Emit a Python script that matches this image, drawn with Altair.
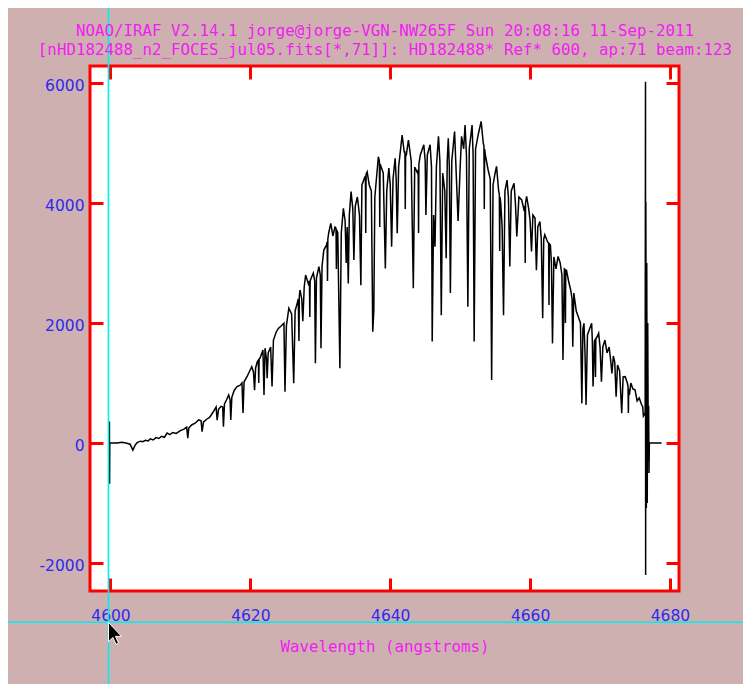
import altair as alt
import pandas as pd

# ---------------- data ----------------
wavelength = [
    4599.75, 4599.84, 4599.85, 4599.87, 4599.90, 4601.00, 4601.60, 4602.20, 4602.80, 4603.20,
    4603.50, 4603.80, 4604.30, 4604.60, 4605.00, 4605.40, 4605.70, 4606.10, 4606.50, 4606.90,
    4607.30, 4607.70, 4608.10, 4608.50, 4608.90, 4609.40, 4610.00, 4610.50, 4610.90, 4611.05,
    4611.20, 4611.60, 4612.10, 4612.60, 4612.95, 4613.10, 4613.30, 4613.80, 4614.20, 4614.70,
    4615.10, 4615.25, 4615.45, 4615.80, 4616.05, 4616.15, 4616.30, 4616.60, 4616.90, 4617.10,
    4617.20, 4617.35, 4617.70, 4618.10, 4618.50, 4618.80, 4618.95, 4619.10, 4619.50, 4619.90,
    4620.20, 4620.45, 4620.60, 4620.75, 4621.00, 4621.15, 4621.20, 4621.25, 4621.40, 4621.80,
    4621.95, 4622.10, 4622.30, 4622.40, 4622.55, 4622.90, 4623.10, 4623.30, 4623.70, 4624.00,
    4624.40, 4624.80, 4624.95, 4625.15, 4625.50, 4625.90, 4626.20, 4626.40, 4626.70, 4626.85,
    4626.95, 4627.00, 4627.10, 4627.35, 4627.50, 4627.70, 4627.90, 4628.30, 4628.45, 4628.50,
    4628.55, 4628.70, 4629.00, 4629.20, 4629.30, 4629.45, 4629.80, 4630.00, 4630.10, 4630.25,
    4630.50, 4630.90, 4630.98, 4631.03, 4631.08, 4631.20, 4631.50, 4631.80, 4632.10, 4632.25,
    4632.30, 4632.35, 4632.50, 4632.80, 4633.00, 4633.30, 4633.55, 4633.70, 4633.85, 4634.00,
    4634.15, 4634.40, 4634.65, 4634.80, 4635.00, 4635.30, 4635.60, 4635.80, 4635.95, 4636.30,
    4636.45, 4636.50, 4636.55, 4636.70, 4637.00, 4637.30, 4637.50, 4637.65, 4637.80, 4638.30,
    4638.45, 4638.50, 4638.55, 4638.70, 4639.00, 4639.30, 4639.50, 4639.80, 4640.00, 4640.20,
    4640.40, 4640.70, 4640.85, 4641.00, 4641.20, 4641.70, 4642.00, 4642.10, 4642.15, 4642.20,
    4642.30, 4642.60, 4643.00, 4643.30, 4643.50, 4643.90, 4644.00, 4644.05, 4644.10, 4644.30,
    4644.80, 4645.00, 4645.10, 4645.30, 4645.70, 4645.90, 4646.00, 4646.20, 4646.40, 4646.60,
    4646.90, 4647.10, 4647.30, 4647.50, 4647.80, 4648.00, 4648.15, 4648.30, 4648.45, 4648.60,
    4648.80, 4649.20, 4649.50, 4649.70, 4650.00, 4650.20, 4650.50, 4650.70, 4650.90, 4651.10,
    4651.30, 4651.70, 4651.85, 4652.00, 4652.20, 4652.60, 4653.00, 4653.30, 4653.40, 4653.45,
    4653.50, 4653.60, 4654.00, 4654.30, 4654.50, 4654.70, 4655.00, 4655.20, 4655.50, 4655.60,
    4655.65, 4655.70, 4655.80, 4656.00, 4656.20, 4656.40, 4656.70, 4656.90, 4657.10, 4657.30,
    4657.70, 4657.90, 4658.10, 4658.40, 4658.80, 4659.10, 4659.25, 4659.30, 4659.35, 4659.50,
    4659.80, 4660.00, 4660.20, 4660.40, 4660.70, 4660.90, 4661.10, 4661.40, 4661.60, 4661.80,
    4661.95, 4662.10, 4662.50, 4662.65, 4662.70, 4662.75, 4662.90, 4663.05, 4663.20, 4663.40,
    4663.70, 4664.00, 4664.30, 4664.55, 4664.70, 4664.90, 4665.00, 4665.05, 4665.10, 4665.20,
    4665.50, 4665.80, 4666.00, 4666.10, 4666.25, 4666.60, 4666.90, 4667.20, 4667.40, 4667.55,
    4667.70, 4667.85, 4668.00, 4668.20, 4668.50, 4668.80, 4668.90, 4669.00, 4669.20, 4669.30,
    4669.35, 4669.40, 4669.50, 4669.80, 4670.00, 4670.20, 4670.40, 4670.70, 4671.00, 4671.30,
    4671.50, 4671.70, 4671.90, 4672.10, 4672.30, 4672.50, 4672.80, 4673.10, 4673.30, 4673.60,
    4673.90, 4674.00, 4674.05, 4674.10, 4674.20, 4674.40, 4674.70, 4675.00, 4675.30, 4675.60,
    4675.90, 4676.10, 4676.20, 4676.45, 4676.50, 4676.52, 4676.55, 4676.62, 4676.68, 4676.75,
    4676.82, 4676.90, 4676.95, 4677.00, 4677.05, 4678.80,
]
flux = [
    0, 0, 360, -680, 0, 0, 10, 0, -20, -120,
    -40, 5, 30, 20, 45, 35, 70, 50, 90, 75,
    110, 95, 165, 140, 175, 160, 205, 230, 265, 80,
    250, 300, 330, 385, 370, 190, 350, 400, 430, 520,
    600, 380, 560, 610, 600, 270, 650, 720, 800, 720,
    385, 760, 880, 940, 960, 1000, 500, 1020, 1100, 1200,
    1270, 1180, 880, 1250, 1355, 1380, 1000, 1400, 1420, 1550,
    800, 1580, 1400, 1080, 1500, 1600, 940, 1715, 1850, 1910,
    1950, 1995, 855, 1950, 2245, 2150, 995, 2200, 2330, 2400,
    1700, 2450, 2550, 2400, 2030, 2600, 2800, 2650, 2700, 2100,
    2700, 2750, 2830, 2700, 1330, 2750, 2940, 2800, 1580, 2950,
    3215, 3300, 3350, 2700, 3400, 3500, 3660, 3450, 3600, 3580,
    2900, 3550, 3500, 1245, 3500, 3910, 3700, 3000, 3600, 2660,
    3800, 4190, 3900, 3050, 3950, 4100, 3800, 2630, 4300, 4410,
    4450, 3500, 4480, 4520, 4300, 4200, 1855, 2200, 4100, 4770,
    4700, 3600, 4650, 4600, 4500, 2910, 4200, 4580, 4300, 3270,
    4400, 4745, 4400, 3495, 4600, 5130, 4850, 4850, 3900, 4800,
    4800, 5050, 4700, 2580, 4600, 4500, 4550, 3500, 4650, 4800,
    4970, 4700, 3800, 4800, 4970, 4600, 1690, 3800, 3270, 4600,
    5110, 4700, 2130, 4500, 4200, 3080, 4700, 5080, 4600, 2500,
    4700, 5190, 4300, 3700, 4600, 5110, 4900, 5300, 4800, 2270,
    4900, 5300, 4800, 1690, 4900, 5150, 5360, 5000, 4950, 3900,
    4900, 4800, 4550, 4400, 1050, 4300, 4500, 4610, 4200, 4150,
    3200, 4100, 4000, 3600, 2130, 4200, 4380, 4100, 2940, 4200,
    4330, 4000, 3440, 4100, 4050, 3900, 3950, 3000, 4000, 4110,
    3900, 3700, 3190, 3800, 3750, 2880, 3600, 3690, 3400, 2080,
    3400, 3470, 3350, 3330, 2300, 3320, 3300, 3000, 1660, 3100,
    2900, 3110, 3000, 2800, 1385, 2900, 2890, 2000, 2880, 2880,
    2700, 2550, 2400, 1605, 2500, 2200, 2100, 2000, 660, 1900,
    1995, 1500, 635, 1800, 1900, 1995, 1700, 940, 1700, 1720,
    1100, 1740, 1750, 1830, 1600, 1020, 1600, 1715, 1500, 1600,
    1400, 1160, 1450, 1350, 770, 1300, 1200, 495, 1100, 1105,
    1000, 950, 500, 900, 800, 1000, 900, 885, 700, 750,
    650, 605, 450, 500, 6020, -2200, 4020, -1085, 3000, -1000,
    2000, -300, 620, -500, 0, 0,
]
assert len(wavelength) == len(flux)

x_ticks = [4600, 4620, 4640, 4660, 4680]
y_ticks = [-2000, 0, 2000, 4000, 6000]
x_domain = [4597.07, 4681.29]
y_domain = [-2467, 6283]
cursor_x = [4599.71]
cursor_y = [-2989]

title_lines = [
    "NOAO/IRAF V2.14.1 jorge@jorge-VGN-NW265F Sun 20:08:16 11-Sep-2011",
    "[nHD182488_n2_FOCES_jul05.fits[*,71]]: HD182488* Ref* 600, ap:71 beam:123",
]
x_title = "Wavelength (angstroms)"

# ---------------- styling ----------------
BG = "#cfb0b0"
RED = "#ff0000"
BLUE = "#2b2bf0"
MAGENTA = "#f020f0"
CYAN = "#00eeee"
MONO = "DejaVu Sans Mono"
SANS = "DejaVu Sans"

spec_df = pd.DataFrame({"wl": wavelength, "flux": flux, "i": range(len(flux))})
tick_df = pd.DataFrame({"tx": x_ticks, "ty": y_ticks})
cx_df = pd.DataFrame({"cx": cursor_x})
cy_df = pd.DataFrame({"cy": cursor_y})
cur_df = pd.DataFrame({"cx": cursor_x, "cy": cursor_y})

xs = alt.Scale(domain=x_domain, nice=False, zero=False)
ys = alt.Scale(domain=y_domain, nice=False, zero=False)

tick_common = dict(tickColor=RED, tickWidth=3, tickSize=13, offset=-13,
                   domain=False, grid=False)

line = alt.Chart(spec_df).mark_line(color="black", strokeWidth=1.5).encode(
    x=alt.X("wl:Q", scale=xs, axis=alt.Axis(
        orient="bottom", values=x_ticks, title=x_title,
        labelExpr="'' + datum.value",
        labelColor=BLUE, labelFont=SANS, labelFontSize=15.5, labelPadding=17,
        titleColor=MAGENTA, titleFont=MONO, titleFontSize=15.8, titleFontWeight="normal",
        titlePadding=16, **tick_common)),
    y=alt.Y("flux:Q", scale=ys, axis=alt.Axis(
        orient="left", values=y_ticks, title=None,
        labelExpr="'' + datum.value",
        labelColor=BLUE, labelFont=SANS, labelFontSize=15.5, labelPadding=6,
        labelOffset=3, **tick_common)),
    order="i:Q",
)

vrule = alt.Chart(cx_df).mark_rule(color=CYAN, strokeWidth=1.6).encode(
    x=alt.X("cx:Q", scale=xs), y=alt.value(-58), y2=alt.value(618))
hrule = alt.Chart(cy_df).mark_rule(color=CYAN, strokeWidth=1.6).encode(
    y=alt.Y("cy:Q", scale=ys), x=alt.value(-82), x2=alt.value(653))

arrow_path = "M0,0 L0,1.5 L0.34,1.16 L0.58,1.7 L0.78,1.6 L0.54,1.08 L1.0,1.08 Z"
arrow = alt.Chart(cur_df).mark_point(
    shape=arrow_path, filled=True, fill="black", stroke="white", strokeWidth=1,
    opacity=1, size=676).encode(
    x=alt.X("cx:Q", scale=xs), y=alt.Y("cy:Q", scale=ys))

title1 = alt.Chart(pd.DataFrame({"t": [title_lines[0]]})).mark_text(
    font=MONO, fontSize=15.8, color=MAGENTA, align="center", baseline="middle").encode(
    text="t:N", x=alt.value(295), y=alt.value(-35))
title2 = alt.Chart(pd.DataFrame({"t": [title_lines[1]]})).mark_text(
    font=MONO, fontSize=15.8, color=MAGENTA, align="center", baseline="middle").encode(
    text="t:N", x=alt.value(295), y=alt.value(-16))

main = alt.layer(line, vrule, hrule, arrow, title1, title2)

ticks_tr = alt.Chart(tick_df).mark_point(opacity=0).encode(
    x=alt.X("tx:Q", scale=xs, axis=alt.Axis(orient="top", values=x_ticks,
                                            labels=False, title=None, **tick_common)),
    y=alt.Y("ty:Q", scale=ys, axis=alt.Axis(orient="right", values=y_ticks,
                                            labels=False, title=None, **tick_common)),
)

chart = alt.layer(main, ticks_tr).resolve_scale(x="independent", y="independent").properties(
    width=589, height=525,
    autosize=alt.AutoSizeParams(type="none"),
    padding={"left": 82, "top": 58, "right": 64, "bottom": 93},
    background=BG,
).configure_view(fill="white", stroke=RED, strokeWidth=3)

chart.save("out.html", embed_options={"renderer": "svg", "actions": False})
